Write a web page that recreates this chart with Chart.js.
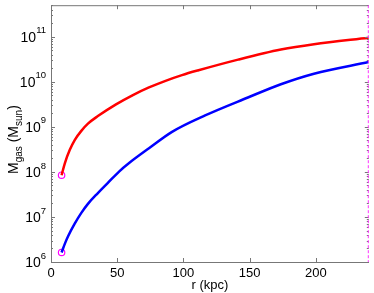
<!DOCTYPE html>
<html>
<head>
<meta charset="utf-8">
<script src="https://cdn.jsdelivr.net/npm/chart.js@4.4.1/dist/chart.umd.min.js"></script>
<style>
  html, body { margin: 0; padding: 0; background: #fff; }
  #wrap { width: 374px; height: 293px; }
</style>
</head>
<body>
<div id="wrap"><canvas id="gasChart" width="374" height="293"></canvas></div>
<script>
  // values
  const redRadius = [8, 10.5, 14.2, 17.9, 22.9, 27.9, 35.4, 49.1, 61.5, 74, 86.5, 98.9, 111.4, 141.3, 173.6, 198.6, 240];
  const redMass = [8.43e7, 1.57e8, 3.08e8, 5.09e8, 8.13e8, 1.175e9, 1.73e9, 3.15e9, 5.01e9, 7.48e9, 1.05e10, 1.405e10, 1.8e10, 3.1e10, 5.18e10, 6.82e10, 9.48e10];
  const blueRadius = [8, 10.5, 12.9, 17.9, 22.9, 27.9, 35.4, 42.8, 51.6, 59, 74, 91.4, 116.4, 148.7, 173.6, 198.6, 240];
  const blueMass = [1.63e6, 2.56e6, 3.72e6, 7.08e6, 1.23e7, 1.95e7, 3.39e7, 5.64e7, 1.03e8, 1.57e8, 3.34e8, 7.73e8, 1.79e9, 4.47e9, 8.81e9, 1.51e10, 2.75e10];
  const startRadius = [8, 8];
  const startMass = [8.43e7, 1.63e6];
  const xTicks = [0, 50, 100, 150, 200];
  const yExponents = [6, 7, 8, 9, 10, 11];

  const toPoints = (xs, ys) => xs.map((x, i) => ({ x: x, y: ys[i] }));
  const FONT = "'Liberation Sans', Arial, sans-serif";

  // frame, inward ticks and labels drawn like the original figure
  const axesPlugin = {
    id: "axesPlugin",
    afterDraw(chart) {
      const ctx = chart.ctx;
      const a = chart.chartArea;
      const xs = chart.scales.x;
      const ys = chart.scales.y;
      ctx.save();
      ctx.strokeStyle = "#777";
      ctx.lineWidth = 1;
      ctx.beginPath();
      ctx.moveTo(a.left + 0.5, a.top + 0.5);
      ctx.lineTo(a.left + 0.5, a.bottom + 0.5);
      ctx.lineTo(a.right, a.bottom + 0.5);
      ctx.moveTo(a.left, a.top + 0.5);
      ctx.lineTo(a.right, a.top + 0.5);
      // x ticks, bottom and top
      xTicks.forEach((v) => {
        const px = Math.round(xs.getPixelForValue(v)) + 0.5;
        ctx.moveTo(px, a.bottom);
        ctx.lineTo(px, a.bottom - 4);
        ctx.moveTo(px, a.top);
        ctx.lineTo(px, a.top + 4);
      });
      // y ticks, left and right
      yExponents.forEach((e) => {
        for (let m = 1; m <= 9; m++) {
          const v = m * Math.pow(10, e);
          if (v > ys.max) break;
          const py = Math.round(ys.getPixelForValue(v)) + 0.5;
          const len = m === 1 ? 4 : 2;
          ctx.moveTo(a.left, py);
          ctx.lineTo(a.left + len, py);
          ctx.moveTo(a.right, py);
          ctx.lineTo(a.right - len, py);
        }
      });
      ctx.stroke();

      // dashed magenta line at the right edge
      ctx.strokeStyle = "#ff33ff";
      ctx.setLineDash([3, 2]);
      ctx.beginPath();
      ctx.moveTo(a.right - 0.5, a.top);
      ctx.lineTo(a.right - 0.5, a.bottom);
      ctx.stroke();
      ctx.setLineDash([]);

      ctx.fillStyle = "#000";
      ctx.textBaseline = "middle";
      ctx.font = "13px " + FONT;
      ctx.textAlign = "center";
      xTicks.forEach((v) => {
        ctx.fillText(String(v), xs.getPixelForValue(v), a.bottom + 11);
      });
      ctx.fillText("r (kpc)", (a.left + a.right) / 2, a.bottom + 23);

      // y labels 10^n
      yExponents.forEach((e) => {
        const py = ys.getPixelForValue(Math.pow(10, e));
        const exp = String(e);
        ctx.font = "9.5px " + FONT;
        const ew = ctx.measureText(exp).width;
        const xr = a.left - 5;
        ctx.textAlign = "left";
        ctx.fillText(exp, xr - ew, py - 6);
        ctx.font = "14px " + FONT;
        ctx.textAlign = "right";
        ctx.fillText("10", xr - ew, py + 1);
      });

      // rotated y title with subscripts
      ctx.translate(18, (a.top + a.bottom) / 2 + 6);
      ctx.rotate(-Math.PI / 2);
      ctx.textBaseline = "alphabetic";
      ctx.textAlign = "left";
      const parts = [
        ["M", 14, 0], ["gas", 10, 4], [" (M", 14, 0], ["sun", 10, 4], [")", 14, 0]
      ];
      let total = 0;
      parts.forEach((p) => { ctx.font = p[1] + "px " + FONT; total += ctx.measureText(p[0]).width; });
      let cx = -total / 2;
      parts.forEach((p) => {
        ctx.font = p[1] + "px " + FONT;
        ctx.fillText(p[0], cx, p[2]);
        cx += ctx.measureText(p[0]).width;
      });
      ctx.restore();
    }
  };

  new Chart(document.getElementById("gasChart"), {
    type: "scatter",
    data: {
      datasets: [
        {
          data: toPoints(redRadius, redMass),
          showLine: true,
          borderColor: "#ff0000",
          borderWidth: 2.5,
          pointRadius: 0,
          cubicInterpolationMode: "monotone",
        },
        {
          data: toPoints(blueRadius, blueMass),
          showLine: true,
          borderColor: "#0000ff",
          borderWidth: 2.5,
          pointRadius: 0,
          cubicInterpolationMode: "monotone",
        },
        {
          data: toPoints(startRadius, startMass),
          showLine: false,
          pointRadius: 3.2,
          pointBorderWidth: 1.2,
          pointBorderColor: "#ff00ff",
          pointBackgroundColor: "rgba(0,0,0,0)",
        },
      ],
    },
    options: {
      responsive: false,
      animation: false,
      layout: { padding: { left: 51, right: 2, top: 2, bottom: 31 } },
      plugins: { legend: { display: false }, tooltip: { enabled: false } },
      scales: {
        x: { type: "linear", display: false, min: 0, max: 240 },
        y: { type: "logarithmic", display: false, min: 1e6, max: 5e11 },
      },
    },
    plugins: [axesPlugin],
  });
</script>
</body>
</html>
